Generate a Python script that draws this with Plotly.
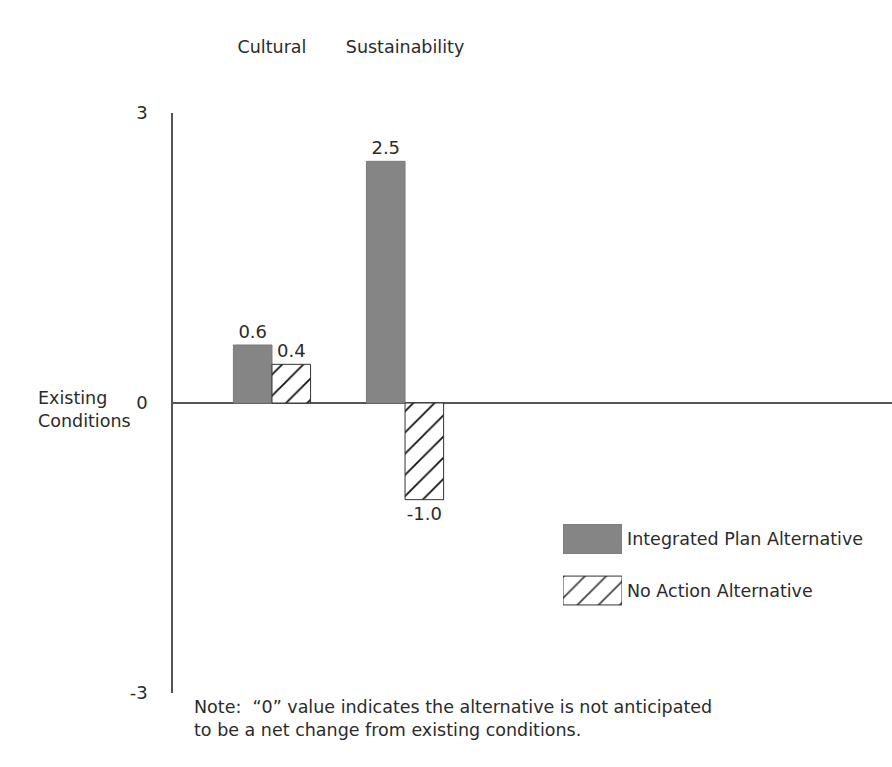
import plotly.graph_objects as go

# Net change from existing conditions, by resource category
categories = ["Cultural", "Sustainability"]
integrated_plan = [0.6, 2.5]
no_action = [0.4, -1.0]
series_names = ["Integrated Plan Alternative", "No Action Alternative"]
y_ticks = [-3, 0, 3]
y_tick_labels = ["-3", "0", "3"]

FONT = "DejaVu Sans, Liberation Sans, sans-serif"
TEXT = "#2b2b2b"
SIZE = 17.5
SOLID = "#858585"
HATCH = dict(shape="/", fgcolor="#111111", bgcolor="white", fgopacity=1,
             size=15, solidity=0.12)

fig = go.Figure()

fig.add_trace(go.Bar(
    x=categories, y=integrated_plan, name=series_names[0],
    showlegend=False,
    marker=dict(color=SOLID, line=dict(color="#7a7a7a", width=1)),
    texttemplate="%{y:.1f}", textposition="outside",
    textfont=dict(family=FONT, size=18, color=TEXT),
    cliponaxis=False,
))
fig.add_trace(go.Bar(
    x=categories, y=no_action, name=series_names[1],
    showlegend=False,
    marker=dict(color="white", line=dict(color="#333333", width=1), pattern=HATCH),
    texttemplate="%{y:.1f}", textposition="outside",
    textfont=dict(family=FONT, size=18, color=TEXT),
    cliponaxis=False,
))

# Key: one swatch per series on a small inset axis, labelled by its ticks
fig.add_trace(go.Bar(
    x=[1] * len(series_names), y=series_names, orientation="h",
    xaxis="x2", yaxis="y2", showlegend=False, hoverinfo="skip",
    width=0.56,
    marker=dict(
        color=[SOLID, "white"],
        line=dict(color=["#7a7a7a", "#333333"], width=1),
        pattern=dict(shape=["", "/"], fgcolor="#111111", bgcolor="white",
                     fgopacity=1, size=15, solidity=0.12),
    ),
))

fig.update_layout(
    width=892, height=767,
    margin=dict(l=173, r=0, t=113, b=74),
    paper_bgcolor="white", plot_bgcolor="white",
    font=dict(family=FONT, size=SIZE, color=TEXT),
    barmode="group", bargap=0.42, bargroupgap=0,
    showlegend=False,
    xaxis=dict(
        type="category", side="top", range=[-0.744, 4.66],
        showline=False, showgrid=False, ticks="",
        ticklabelstandoff=56,
        tickfont=dict(family=FONT, size=SIZE, color=TEXT),
    ),
    yaxis=dict(
        range=[-3, 3], tickvals=y_ticks, ticktext=y_tick_labels,
        showline=True, linecolor="#555555", linewidth=1.5,
        showgrid=False, ticks="", ticklabelstandoff=20,
        zeroline=True, zerolinecolor="#555555", zerolinewidth=1.5,
        tickfont=dict(family=FONT, size=18, color=TEXT),
    ),
    xaxis2=dict(
        domain=[0.5424, 0.6245], range=[0, 1], anchor="y2",
        visible=False, fixedrange=True,
    ),
    yaxis2=dict(
        domain=[0.1323, 0.3099], anchor="x2", side="right",
        type="category", autorange="reversed",
        showline=False, showgrid=False, zeroline=False, ticks="",
        ticklabelstandoff=4,
        tickfont=dict(family=FONT, size=SIZE, color=TEXT),
        fixedrange=True,
    ),
    annotations=[
        dict(text="Existing<br>Conditions", xref="paper", yref="y",
             x=-0.191, y=0, xanchor="left", yanchor="middle", yshift=-6,
             align="left", showarrow=False,
             font=dict(family=FONT, size=SIZE, color=TEXT)),
        dict(text="Note:  \u201c0\u201d value indicates the alternative is not anticipated<br>"
                  "to be a net change from existing conditions.",
             xref="paper", yref="paper", x=0.026, y=-0.004,
             xanchor="left", yanchor="top", align="left", showarrow=False,
             font=dict(family=FONT, size=SIZE, color=TEXT)),
    ],
)

fig.write_html("out.html")
